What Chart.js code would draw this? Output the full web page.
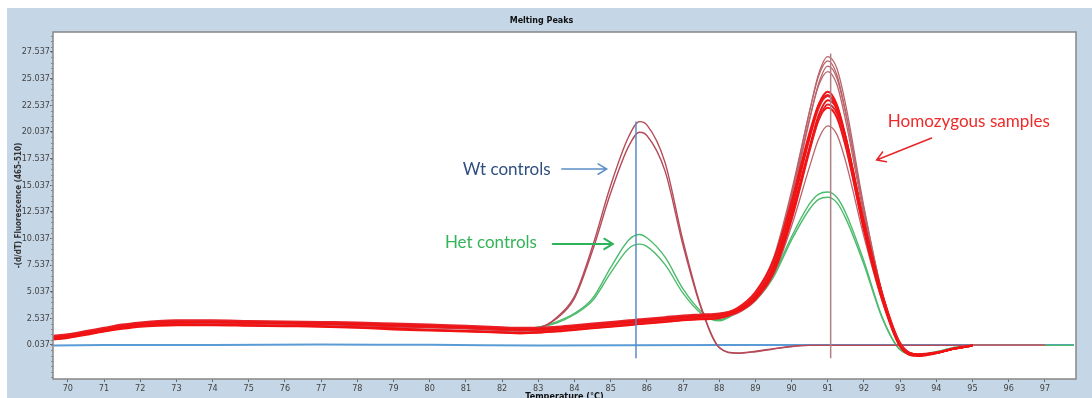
<!DOCTYPE html>
<html>
<head>
<meta charset="utf-8">
<title>Melting Peaks</title>
<script src="https://cdn.jsdelivr.net/npm/chart.js@4.4.1/dist/chart.umd.min.js"></script>
<style>
  html, body { margin: 0; padding: 0; background: #fff; overflow: hidden; }
  canvas { display: block; }
</style>
</head>
<body>
<canvas id="meltChart" width="1092" height="398"></canvas>
<script>
// temperature grid shared by all melt curves (°C)
const temps = [69.6, 70, 70.5, 71, 71.5, 72, 72.5, 73, 74, 75, 76, 77, 78, 79, 80, 81, 82, 82.5,
  83, 83.5, 84, 84.5, 85, 85.5, 85.8, 86, 86.5, 87, 87.5, 88, 88.5, 89, 89.5, 90, 90.5, 90.75,
  91, 91.25, 91.5, 92, 92.5, 93, 93.5, 94, 94.5, 95, 96, 97, 97.8];

// homozygous samples, -(d/dT) fluorescence
const homB1 = [0.6, 0.75, 1.05, 1.35, 1.6, 1.8, 1.95, 2.0, 2.0, 1.95, 1.9, 1.85, 1.75, 1.65, 1.5, 1.4, 1.3, 1.25,
  1.3, 1.4, 1.55, 1.7, 1.85, 2.0, 2.1, 2.15, 2.3, 2.45, 2.55, 2.65, 3.3, 4.8, 8.0, 14.2, 22.0, 25.5,
  27.1, 26.0, 22.5, 13.0, 5.0, 0.0, -0.9, -0.7, -0.3, 0, 0, 0, null];
const homB2 = [0.85, 1.0, 1.3, 1.6, 1.9, 2.1, 2.25, 2.3, 2.3, 2.25, 2.2, 2.15, 2.1, 2.0, 1.9, 1.8, 1.65, 1.6,
  1.6, 1.7, 1.85, 2.0, 2.15, 2.3, 2.4, 2.45, 2.6, 2.75, 2.85, 2.95, 3.4, 4.9, 8.2, 14.5, 22.0, 25.3,
  26.7, 25.4, 21.8, 12.6, 4.9, 0.0, -0.9, -0.7, -0.3, 0, 0, 0, null];
const homB3 = [0.75, 0.9, 1.2, 1.5, 1.8, 2.0, 2.15, 2.2, 2.2, 2.15, 2.1, 2.05, 2.0, 1.9, 1.8, 1.7, 1.55, 1.5,
  1.5, 1.6, 1.75, 1.9, 2.05, 2.2, 2.3, 2.35, 2.5, 2.65, 2.75, 2.85, 3.2, 4.6, 7.6, 13.5, 21.2, 24.6,
  26.2, 25.1, 21.7, 12.8, 5.0, 0.1, -0.9, -0.7, -0.3, 0, 0, 0, null];
const homB4 = [0.65, 0.8, 1.1, 1.4, 1.7, 1.9, 2.05, 2.1, 2.1, 2.05, 2.0, 1.95, 1.85, 1.75, 1.65, 1.55, 1.4, 1.35,
  1.4, 1.5, 1.65, 1.8, 1.95, 2.1, 2.2, 2.25, 2.4, 2.55, 2.65, 2.75, 3.3, 4.7, 7.9, 14.0, 21.3, 24.4,
  25.7, 24.5, 21.0, 12.2, 4.7, 0.0, -0.9, -0.7, -0.3, 0, 0, 0, null];
const homB5 = [0.6, 0.75, 1.05, 1.35, 1.6, 1.8, 1.9, 1.95, 1.95, 1.9, 1.85, 1.8, 1.7, 1.6, 1.45, 1.35, 1.25, 1.2,
  1.25, 1.35, 1.5, 1.65, 1.8, 1.95, 2.05, 2.1, 2.25, 2.4, 2.5, 2.6, 3.0, 4.2, 6.6, 11.2, 16.8, 19.4,
  20.6, 19.8, 17.2, 10.2, 4.2, 0.0, -0.8, -0.6, -0.25, 0, 0, 0, null];
const homR1 = [0.75, 0.9, 1.2, 1.5, 1.8, 2.0, 2.15, 2.2, 2.2, 2.15, 2.1, 2.05, 2.0, 1.9, 1.8, 1.7, 1.55, 1.5,
  1.5, 1.6, 1.75, 1.9, 2.05, 2.2, 2.3, 2.35, 2.5, 2.65, 2.75, 2.85, 3.3, 4.6, 7.3, 12.8, 19.6, 22.6,
  23.8, 22.6, 19.5, 11.3, 4.6, -0.1, -0.9, -0.7, -0.3, 0, null, null, null];
const homR2 = [0.9, 1.05, 1.35, 1.65, 1.95, 2.15, 2.3, 2.35, 2.35, 2.3, 2.25, 2.2, 2.15, 2.05, 1.95, 1.85, 1.7, 1.65,
  1.65, 1.75, 1.9, 2.05, 2.2, 2.35, 2.45, 2.5, 2.65, 2.8, 2.9, 3.0, 3.4, 4.8, 7.6, 13.0, 19.5, 22.3,
  23.4, 22.4, 19.4, 11.4, 4.8, 0.1, -0.9, -0.7, -0.3, 0, null, null, null];
const homR3 = [0.55, 0.7, 1.0, 1.3, 1.55, 1.75, 1.85, 1.9, 1.9, 1.85, 1.8, 1.75, 1.65, 1.5, 1.4, 1.3, 1.2, 1.15,
  1.2, 1.3, 1.45, 1.6, 1.75, 1.9, 2.0, 2.05, 2.2, 2.35, 2.45, 2.55, 3.2, 4.4, 6.9, 12.0, 18.6, 21.6,
  23.0, 22.2, 19.4, 11.6, 4.9, 0.2, -0.85, -0.7, -0.3, 0, null, null, null];
const homR4 = [0.7, 0.85, 1.15, 1.45, 1.75, 1.95, 2.1, 2.15, 2.15, 2.1, 2.05, 2.0, 1.9, 1.8, 1.7, 1.6, 1.45, 1.4,
  1.4, 1.5, 1.65, 1.8, 1.95, 2.1, 2.2, 2.25, 2.4, 2.55, 2.65, 2.75, 3.1, 4.3, 6.8, 11.8, 18.3, 21.2,
  22.6, 21.8, 19.0, 11.5, 4.8, 0.2, -0.85, -0.7, -0.3, 0, null, null, null];
const homR5 = [0.8, 0.95, 1.25, 1.55, 1.85, 2.05, 2.2, 2.25, 2.25, 2.2, 2.15, 2.1, 2.05, 1.95, 1.85, 1.75, 1.6, 1.55,
  1.55, 1.65, 1.8, 1.95, 2.1, 2.25, 2.35, 2.4, 2.55, 2.7, 2.8, 2.9, 3.5, 5.0, 8.0, 13.5, 20.0, 22.6,
  23.5, 22.2, 19.0, 10.8, 4.3, -0.1, -1.0, -0.75, -0.3, 0, null, null, null];
const homR6 = [0.6, 0.75, 1.05, 1.35, 1.65, 1.85, 1.95, 2.0, 1.95, 1.9, 1.85, 1.8, 1.7, 1.6, 1.45, 1.35, 1.2, 1.15,
  1.2, 1.35, 1.5, 1.65, 1.8, 1.95, 2.05, 2.1, 2.25, 2.4, 2.5, 2.6, 3.3, 4.6, 7.2, 12.3, 18.5, 21.2,
  22.3, 21.4, 18.6, 11.0, 4.5, 0.0, -0.9, -0.7, -0.3, 0, null, null, null];

// wild-type controls
const wt1 = [0.7, 0.85, 1.15, 1.45, 1.75, 1.95, 2.1, 2.15, 2.15, 2.1, 2.05, 2.0, 1.95, 1.85, 1.75, 1.65, 1.5, 1.45,
  1.6, 2.6, 4.6, 9.3, 15.0, 19.6, 21.0, 20.7, 17.2, 9.8, 3.6, -0.2, -0.75, -0.6, -0.35, -0.1, 0, 0,
  0, 0, 0, 0, 0, 0, 0, 0, 0, 0, 0, 0, null];
const wt2 = [0.8, 0.95, 1.25, 1.55, 1.85, 2.05, 2.2, 2.25, 2.25, 2.2, 2.15, 2.1, 2.0, 1.9, 1.8, 1.7, 1.55, 1.5,
  1.65, 2.5, 4.4, 8.9, 14.3, 18.7, 20.0, 19.7, 16.4, 9.4, 3.5, -0.2, -0.7, -0.55, -0.3, -0.1, 0, 0,
  0, 0, 0, 0, 0, 0, 0, 0, 0, 0, 0, 0, null];

// heterozygous controls
const het1 = [0.7, 0.85, 1.15, 1.5, 1.8, 2.0, 2.15, 2.2, 2.2, 2.15, 2.1, 2.05, 2.0, 1.9, 1.8, 1.7, 1.6, 1.6,
  1.7, 2.2, 3.0, 4.4, 7.3, 9.9, 10.4, 10.1, 8.3, 5.3, 3.2, 2.4, 3.2, 4.3, 6.6, 10.2, 13.3, 14.2,
  14.4, 13.9, 12.4, 7.9, 2.7, -0.4, -0.9, -0.6, -0.2, 0, 0, 0, 0];
const het2 = [0.8, 0.95, 1.25, 1.6, 1.9, 2.1, 2.25, 2.3, 2.3, 2.25, 2.2, 2.1, 2.05, 1.95, 1.85, 1.75, 1.65, 1.6,
  1.7, 2.1, 2.9, 4.2, 6.8, 9.1, 9.5, 9.3, 7.6, 4.9, 3.0, 2.3, 3.1, 4.2, 6.4, 9.9, 12.8, 13.7,
  13.9, 13.4, 11.9, 7.6, 2.6, -0.4, -0.9, -0.6, -0.2, 0, 0, 0, 0];

// no-template control
const ntcTemps = [69.6, 71, 74, 77, 80, 83, 88, 92, 95, 97.8];
const ntcVals = [0.0, 0.03, 0.03, 0.08, 0.05, 0.0, 0.03, 0.04, 0.04, 0.04];

// Tm cursors
const cursorTemps = [85.7, 91.08];
const cursorTops = [21.0, 27.4];
const cursorBottom = -1.2;

// axis ticks
const xTicks = [70, 71, 72, 73, 74, 75, 76, 77, 78, 79, 80, 81, 82, 83, 84, 85, 86, 87, 88, 89, 90, 91, 92, 93, 94, 95, 96, 97];
const yTicks = [0.037, 2.537, 5.037, 7.537, 10.037, 12.537, 15.037, 17.537, 20.037, 22.537, 25.037, 27.537];
const yTickLabels = ['0.037', '2.537', '5.037', '7.537', '10.037', '12.537', '15.037', '17.537', '20.037', '22.537', '25.037', '27.537'];
const yMinorStep = 0.5;

const RED = '#f21212';
const RED2 = '#e4222a';
const BROWN = '#b9646c';
const WTCOL = '#b54a58';
const GREEN = '#4dbb6d';

function curve(vals, color, width) {
  return {
    data: temps.map((t, i) => ({ x: t, y: vals[i] === undefined ? null : vals[i] })),
    borderColor: color,
    borderWidth: width,
    pointRadius: 0,
    fill: false,
    spanGaps: false,
    cubicInterpolationMode: 'monotone'
  };
}

function cursor(i, color) {
  return {
    data: [{ x: cursorTemps[i], y: cursorBottom }, { x: cursorTemps[i], y: cursorTops[i] }],
    borderColor: color,
    borderWidth: 1.5,
    pointRadius: 0,
    tension: 0
  };
}

// first dataset ends up on top
const datasets = [
  cursor(0, '#5a8cc6'),
  cursor(1, '#b08088'),
  curve(homR1, RED, 2),
  curve(homR2, RED2, 2),
  curve(homR3, RED, 2),
  curve(homR4, RED2, 2),
  curve(homR5, RED, 2),
  curve(homR6, RED, 2),
  curve(homB1, BROWN, 1.3),
  curve(homB2, BROWN, 1.3),
  curve(homB3, BROWN, 1.3),
  curve(homB4, BROWN, 1.3),
  curve(homB5, BROWN, 1.3),
  curve(wt1, WTCOL, 1.4),
  curve(wt2, WTCOL, 1.4),
  curve(het1, GREEN, 1.4),
  curve(het2, GREEN, 1.4),
  {
    data: ntcTemps.map((t, i) => ({ x: t, y: ntcVals[i] })),
    borderColor: '#5b9bd5',
    borderWidth: 2,
    pointRadius: 0,
    tension: 0.3
  }
];

// callout labels with arrows, placed in data units
const notes = [
  { text: 'Wt controls', color: '#2f4f80', x: 80.91, y: 15.99, w: 88,
    arrow: { color: '#5a8fc8', from: [83.65, 16.55], to: [84.89, 16.55], width: 1.5 } },
  { text: 'Het controls', color: '#34b459', x: 80.42, y: 9.11, w: 92,
    arrow: { color: '#2fb35a', from: [83.4, 9.52], to: [85.06, 9.52], width: 2 } },
  { text: 'Homozygous samples', color: '#ee2a2a', x: 92.66, y: 20.47, w: 162,
    arrow: { color: '#e8262a', from: [93.87, 19.46], to: [92.35, 17.4], width: 1.5 } }
];

const framePlugin = {
  id: 'frame',
  beforeDraw(chart) {
    const { ctx, chartArea: a, width, height } = chart;
    ctx.save();
    ctx.fillStyle = '#ffffff';
    ctx.fillRect(0, 0, width, height);
    ctx.fillStyle = '#c5d6e6';
    ctx.fillRect(7, 8, width - 7, height - 8);
    ctx.fillStyle = '#ffffff';
    ctx.fillRect(a.left, a.top, a.right - a.left, a.bottom - a.top);
    ctx.restore();
  },
  afterDraw(chart) {
    const { ctx, chartArea: a, scales: { y } } = chart;
    ctx.save();
    // minor ticks along the y axis
    ctx.strokeStyle = '#8a8a8a';
    ctx.lineWidth = 1;
    ctx.beginPath();
    for (let v = yTicks[0] - 6 * yMinorStep; v <= y.max; v += yMinorStep) {
      const py = Math.round(y.getPixelForValue(v)) + 0.5;
      if (py < a.top || py > a.bottom) continue;
      ctx.moveTo(a.left - 2, py);
      ctx.lineTo(a.left, py);
    }
    ctx.stroke();
    ctx.strokeStyle = '#878787';
    ctx.lineWidth = 1.5;
    ctx.strokeRect(a.left, a.top, a.right - a.left, a.bottom - a.top);
    ctx.restore();
  }
};

const notesPlugin = {
  id: 'notes',
  afterDatasetsDraw(chart) {
    const { ctx, scales: { x, y } } = chart;
    ctx.save();
    notes.forEach(n => {
      ctx.font = '18px Lato, "Open Sans", sans-serif';
      ctx.fillStyle = n.color;
      ctx.textBaseline = 'alphabetic';
      ctx.textAlign = 'left';
      ctx.fillText(n.text, x.getPixelForValue(n.x), y.getPixelForValue(n.y), n.w);

      const x0 = x.getPixelForValue(n.arrow.from[0]), y0 = y.getPixelForValue(n.arrow.from[1]);
      const x1 = x.getPixelForValue(n.arrow.to[0]), y1 = y.getPixelForValue(n.arrow.to[1]);
      const ang = Math.atan2(y1 - y0, x1 - x0);
      const head = 10;
      ctx.strokeStyle = n.arrow.color;
      ctx.lineWidth = n.arrow.width;
      ctx.lineCap = 'round';
      ctx.beginPath();
      ctx.moveTo(x0, y0);
      ctx.lineTo(x1, y1);
      ctx.moveTo(x1 - head * Math.cos(ang - 0.55), y1 - head * Math.sin(ang - 0.55));
      ctx.lineTo(x1, y1);
      ctx.lineTo(x1 - head * Math.cos(ang + 0.55), y1 - head * Math.sin(ang + 0.55));
      ctx.stroke();
    });
    ctx.restore();
  }
};

const tickFont = { family: '"Liberation Sans Narrow", "DejaVu Sans Condensed", sans-serif', size: 9 };

new Chart(document.getElementById('meltChart'), {
  type: 'line',
  data: { datasets },
  plugins: [framePlugin, notesPlugin],
  options: {
    responsive: false,
    animation: false,
    devicePixelRatio: 1,
    layout: { padding: { left: 7, right: 16, top: 0, bottom: 0 } },
    plugins: {
      legend: { display: false },
      tooltip: { enabled: false },
      title: {
        display: true,
        text: 'Melting Peaks',
        color: '#111',
        font: { family: '"DejaVu Sans", sans-serif', size: 8, weight: 'bold' },
        padding: { top: 16, bottom: 6.4 }
      }
    },
    scales: {
      x: {
        type: 'linear',
        min: 69.59,
        max: 97.86,
        afterBuildTicks: s => { s.ticks = xTicks.map(v => ({ value: v })); },
        afterFit: s => { s.height = 19; },
        border: { display: false },
        grid: { drawOnChartArea: false, tickLength: 3, color: '#666' },
        ticks: { autoSkip: false, maxRotation: 0, padding: 1, color: '#444', font: tickFont,
          callback: v => String(v) },
        title: {
          display: true,
          text: 'Temperature (°C)',
          color: '#111',
          font: { family: '"Liberation Sans Narrow", "DejaVu Sans Condensed", sans-serif', size: 9, weight: 'bold' },
          padding: { top: 0, bottom: -4 }
        }
      },
      y: {
        type: 'linear',
        min: -3.154,
        max: 29.41,
        afterBuildTicks: s => { s.ticks = yTicks.map(v => ({ value: v })); },
        afterFit: s => { s.width = 46; },
        border: { display: false },
        grid: { drawOnChartArea: false, tickLength: 3, color: '#666' },
        ticks: { autoSkip: false, padding: 0, color: '#444', font: tickFont,
          callback: (v, i) => yTickLabels[i] },
        title: {
          display: true,
          text: '-(d/dT) Fluorescence (465-510)',
          color: '#333',
          font: { family: '"Liberation Sans Narrow", "DejaVu Sans Condensed", sans-serif', size: 8, weight: 'bold' },
          padding: { top: 7.2, bottom: 0 }
        }
      }
    }
  }
});
</script>
</body>
</html>
